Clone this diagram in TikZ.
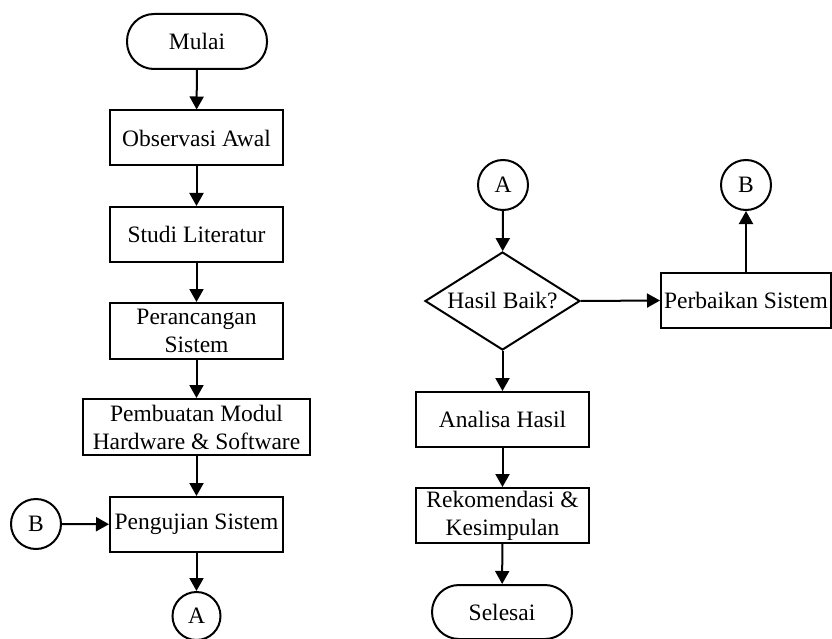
\documentclass[tikz,border=0pt]{standalone}
\usepackage{fontspec}
\setmainfont{Liberation Serif}
\usetikzlibrary{shapes.geometric,arrows.meta}
\begin{document}
\begin{tikzpicture}[x=1pt,y=-1pt,
  every node/.style={inner sep=0pt, font=\fontsize{23.5}{28}\selectfont, align=center},
  proc/.style={draw, line width=2pt, rectangle, minimum width=173pt, minimum height=55pt},
  term/.style={draw, line width=2pt, rectangle, rounded corners=27pt, minimum width=140pt, minimum height=55pt},
  conn/.style={draw, line width=2pt, circle, minimum size=50pt},
  dec/.style={draw, line width=2pt, diamond, minimum width=155pt, minimum height=98pt},
  flow/.style={line width=2pt, -{Triangle[length=13pt,width=14pt]}}]
\fill[white] (0,0) rectangle (832,639);
\useasboundingbox (0,0) rectangle (832,639);
% left column
\node[term] (mulai) at (197,41.5) {Mulai};
\node[proc] (obs) at (196.5,138) {Observasi Awal};
\node[proc] (studi) at (196.5,234.5) {Studi Literatur};
\node[proc, minimum height=56pt] (ranc) at (196.5,331) {Perancangan\\Sistem};
\node[proc, minimum width=227pt, minimum height=56pt] (pemb) at (196.5,427) {Pembuatan Modul\\Hardware \& Software};
\node[proc] (uji) at (196.5,524.5) {Pengujian Sistem};
\node[conn] (bl) at (36,524) {B};
\node[conn, minimum size=48pt] (abot) at (196.5,616) {A};
% right column
\node[conn] (ar) at (503,185) {A};
\node[dec] (dia) at (502.5,301) {};
\node (diat) at (dia.center) {Hasil Baik?};
\node[proc, minimum width=170pt] (perb) at (746,300.5) {Perbaikan Sistem};
\node[conn] (br) at (746,185) {B};
\node[proc] (ana) at (502.5,419.5) {Analisa Hasil};
\node[proc] (rek) at (502.5,515.5) {Rekomendasi \&\\Kesimpulan};
\node[term, minimum height=54pt] (sel) at (502,612) {Selesai};
% connectors
\draw[flow] (mulai) -- (obs);
\draw[flow] (obs) -- (studi);
\draw[flow] (studi) -- (ranc);
\draw[flow] (ranc) -- (pemb);
\draw[flow] (pemb) -- (uji);
\draw[flow] (bl) -- (uji);
\draw[flow] (uji) -- (abot);
\draw[flow] (ar) -- (dia);
\draw[flow] (dia.east) -- (perb.west);
\draw[flow] (perb) -- (br);
\draw[flow] (dia.south) -- (ana);
\draw[flow] (ana) -- (rek);
\draw[flow] (rek) -- (sel);
\end{tikzpicture}
\end{document}
